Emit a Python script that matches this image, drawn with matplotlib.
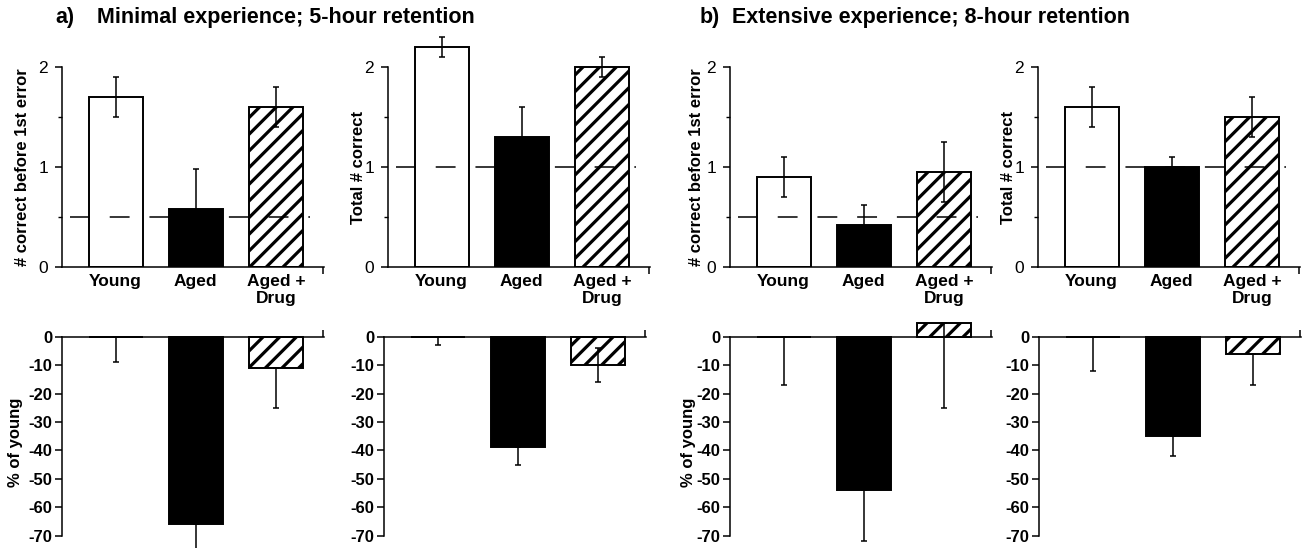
import matplotlib
matplotlib.use('Agg')
import matplotlib.pyplot as plt

plt.rcParams['font.family'] = ['Liberation Sans', 'DejaVu Sans']
plt.rcParams['axes.unicode_minus'] = False
plt.rcParams['hatch.linewidth'] = 2.3
plt.rcParams['hatch.color'] = 'black'

groups = ['Young', 'Aged', 'Aged +\nDrug']
fills = ['white', 'black', 'white']
hatches = [None, None, '//']

# a) minimal experience, 5-hour retention
aFirstMean = [1.7, 0.58, 1.6]
aFirstErr = [0.2, 0.4, 0.2]
aTotalMean = [2.2, 1.3, 2.0]
aTotalErr = [0.1, 0.3, 0.1]
aFirstPct = [0, -66, -11]
aFirstPctLo = [9, 10, 14]
aFirstPctHi = [0, 0, 0]
aTotalPct = [0, -39, -10]
aTotalPctLo = [3, 6, 6]
aTotalPctHi = [0, 0, 6]

# b) extensive experience, 8-hour retention
bFirstMean = [0.9, 0.42, 0.95]
bFirstErr = [0.2, 0.2, 0.3]
bTotalMean = [1.6, 1.0, 1.5]
bTotalErr = [0.2, 0.1, 0.2]
bFirstPct = [0, -54, 5]
bFirstPctLo = [17, 18, 30]
bFirstPctHi = [0, 0, 0]
bTotalPct = [0, -35, -6]
bTotalPctLo = [12, 7, 11]
bTotalPctHi = [0, 0, 0]

chance = [0.5, 1.0, 0.5, 1.0]

W, H = 1309, 548
fig = plt.figure(figsize=(W / 100, H / 100), dpi=100)

def pxAxes(left, bottom, width, height):
    # bottom is measured from the top of the image, in pixels
    return fig.add_axes([left / W, (H - bottom) / H, width / W, height / H])

xs = [0, 1, 2]
xlim = (-0.67, 2.6)

def drawBars(ax, vals, yerr):
    for i in range(3):
        ax.bar(xs[i], vals[i], width=0.67, color=fills[i], edgecolor='black',
               linewidth=1.4, hatch=hatches[i], zorder=2)
    ax.errorbar(xs, vals, yerr=yerr, fmt='none', ecolor='black', elinewidth=1.1,
                capsize=2.5, capthick=1.1, zorder=4, clip_on=False)

def endTick(ax, direction):
    # little tick at the right end of the x axis, as in the original
    ax.set_xticks([xlim[1] - 0.01], minor=True)
    ax.tick_params(axis='x', which='minor', length=5, width=1.1, direction=direction)

def topPanel(left, vals, err, level, ylabel, labelX):
    ax = pxAxes(left, 267, 262, 240)
    drawBars(ax, vals, err)
    ax.hlines(level, -0.57, 2.42, colors='black', linewidth=1.1,
              linestyles=(0, (13, 13)), zorder=3)
    ax.set_xlim(*xlim)
    ax.set_ylim(0, 2.4)
    for s in ['top', 'right']:
        ax.spines[s].set_visible(False)
    ax.spines['left'].set_bounds(0, 2)
    ax.spines['left'].set_linewidth(1.1)
    ax.spines['bottom'].set_linewidth(1.1)
    ax.set_yticks([0, 1, 2])
    ax.set_yticks([0.5, 1.5], minor=True)
    ax.tick_params(axis='y', which='major', length=5, width=1.1, labelsize=12.5, pad=5)
    ax.tick_params(axis='y', which='minor', length=3, width=1.0)
    ax.set_xticks(xs)
    ax.set_xticklabels(groups, fontsize=12.5, fontweight='bold', linespacing=1.2)
    ax.tick_params(axis='x', which='major', length=0, pad=5)
    endTick(ax, 'out')
    ax.set_ylabel(ylabel, fontsize=12, fontweight='bold')
    ax.yaxis.set_label_coords(labelX, 1 / 2.4)
    return ax

def bottomPanel(left, vals, lo, hi, ylabel, labelX):
    ax = pxAxes(left, 535.5, 262, 221.5)
    drawBars(ax, vals, [lo, hi])
    ax.set_xlim(*xlim)
    ax.set_ylim(-70, 8)
    for s in ['top', 'right']:
        ax.spines[s].set_visible(False)
    ax.spines['bottom'].set_position(('data', 0))
    ax.spines['bottom'].set_linewidth(1.1)
    ax.spines['left'].set_bounds(-70, 0)
    ax.spines['left'].set_linewidth(1.1)
    ax.set_xticks([])
    endTick(ax, 'in')
    ax.set_yticks(range(-70, 1, 10))
    ax.tick_params(axis='y', length=5, width=1.1, labelsize=12, pad=2)
    for t in ax.get_yticklabels():
        t.set_fontweight('bold')
    if ylabel:
        ax.set_ylabel(ylabel, fontsize=12, fontweight='bold')
        ax.yaxis.set_label_coords(labelX, 0.42)
    return ax

topPanel(62, aFirstMean, aFirstErr, chance[0], '# correct before 1st error', -0.122)
topPanel(388, aTotalMean, aTotalErr, chance[1], 'Total # correct', -0.084)
topPanel(730, bFirstMean, bFirstErr, chance[2], '# correct before 1st error', -0.1)
topPanel(1038, bTotalMean, bTotalErr, chance[3], 'Total # correct', -0.084)

bottomPanel(62, aFirstPct, aFirstPctLo, aFirstPctHi, '% of young', -0.149)
bottomPanel(384, aTotalPct, aTotalPctLo, aTotalPctHi, None, 0)
bottomPanel(730, bFirstPct, bFirstPctLo, bFirstPctHi, '% of young', -0.13)
bottomPanel(1039, bTotalPct, bTotalPctLo, bTotalPctHi, None, 0)

fig.text(55 / W, 1 - 17 / H, 'a)', fontsize=15.5, fontweight='bold', va='center')
fig.text(97 / W, 1 - 17 / H, 'Minimal experience; 5-hour retention',
         fontsize=15.5, fontweight='bold', va='center')
fig.text(700 / W, 1 - 17 / H, 'b)', fontsize=15.5, fontweight='bold', va='center')
fig.text(732 / W, 1 - 17 / H, 'Extensive experience; 8-hour retention',
         fontsize=15.5, fontweight='bold', va='center')

fig.savefig('out.png', dpi=100)
